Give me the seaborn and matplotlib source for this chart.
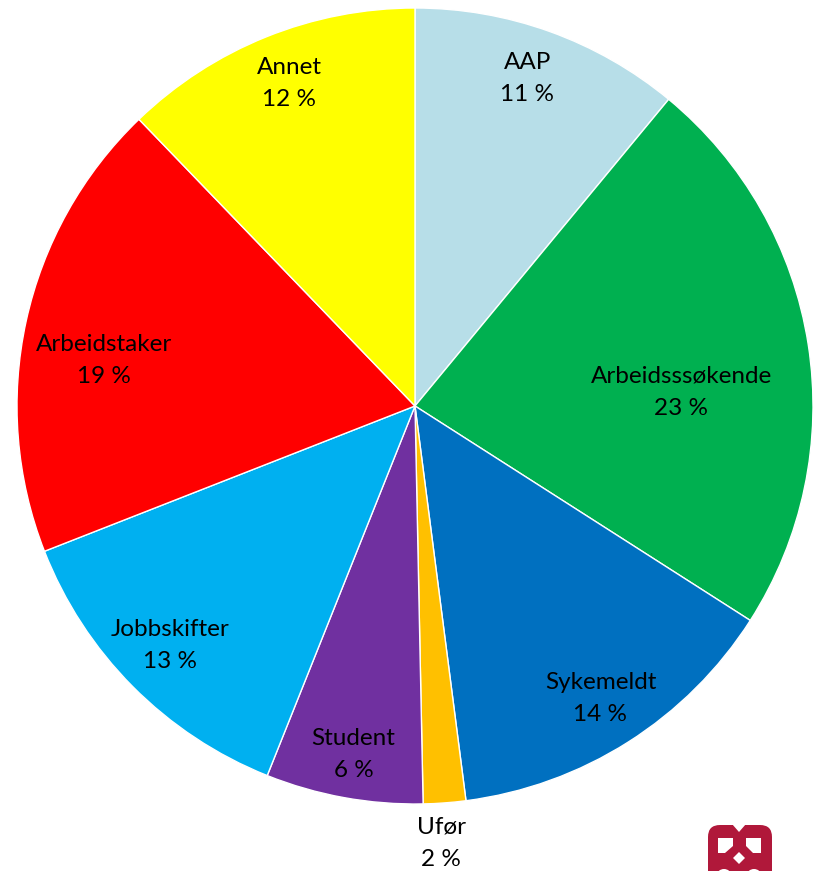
import numpy as np
import matplotlib
matplotlib.use("Agg")
import matplotlib.pyplot as plt
import seaborn as sns
from matplotlib.patches import FancyBboxPatch, Polygon, Ellipse

sns.set_theme(style="white")
plt.rcParams['font.family'] = ['Lato', 'DejaVu Sans']

categories = ["AAP", "Arbeidsssøkende", "Sykemeldt", "Ufør", "Student",
              "Jobbskifter", "Arbeidstaker", "Annet"]
values = [11.0, 23.06, 13.9, 1.72, 6.38, 13.0, 18.75, 12.2]
colors = ["#B7DEE8", "#00B050", "#0070C0", "#FFC000", "#7030A0",
          "#00B0F0", "#FF0000", "#FFFF00"]
# label placement (fraction of radius) and angular shift (deg) per slice
label_dist = [0.87, 0.67, 0.87, 1.10, 0.89, 0.86, 0.79, 0.87]
label_shift = [0.9, -6.0, 0.0, -0.85, 0.3, -0.4, 4.0, -0.7]

W, H, DPI = 819, 871, 100
fig = plt.figure(figsize=(W / DPI, H / DPI), dpi=DPI)
cx, cy, R = 415, 406, 398
ax = fig.add_axes([(cx - R) / W, (H - cy - R) / H, 2 * R / W, 2 * R / H])
wedges, _ = ax.pie(values, colors=colors, startangle=90, counterclock=False,
                   radius=1.0, wedgeprops=dict(edgecolor="white", linewidth=1.0))
ax.set_xlim(-1, 1)
ax.set_ylim(-1, 1)
ax.set_aspect("equal")
ax.axis("off")

total = sum(values)
for w, cat, v, d, s in zip(wedges, categories, values, label_dist, label_shift):
    ang = np.deg2rad((w.theta1 + w.theta2) / 2 + s)
    x, y = d * np.cos(ang), d * np.sin(ang)
    ax.text(x, y, f"{cat}\n{round(100 * v / total):.0f} %", ha="center", va="center",
            fontsize=17.5, color="black", linespacing=1.65, clip_on=False)

# logo (decorative, bottom right)
lax = fig.add_axes([0, 0, 1, 1], zorder=5)
lax.set_xlim(0, W)
lax.set_ylim(H, 0)
lax.axis("off")
red = "#B0183A"
lax.add_patch(FancyBboxPatch((708, 825), 64, 62, boxstyle="round,pad=0,rounding_size=12",
                             facecolor=red, edgecolor="none"))
lax.add_patch(Polygon([(732, 824), (739, 832), (746, 824)], closed=True,
                      facecolor="white", edgecolor="none"))
lax.add_patch(Polygon([(718, 838), (733, 838), (733, 846), (725, 853), (718, 853)],
                      closed=True, facecolor="white", edgecolor="none"))
lax.add_patch(Polygon([(746, 838), (761, 838), (761, 853), (753, 853), (746, 846)],
                      closed=True, facecolor="white", edgecolor="none"))
lax.add_patch(Polygon([(739, 852), (745, 858), (739, 864), (733, 858)], closed=True,
                      facecolor="white", edgecolor="none"))
lax.add_patch(Ellipse((724, 875), 14, 12, facecolor="white", edgecolor="none"))
lax.add_patch(Ellipse((754, 875), 14, 12, facecolor="white", edgecolor="none"))

fig.savefig("out.png", dpi=DPI, facecolor="white")
